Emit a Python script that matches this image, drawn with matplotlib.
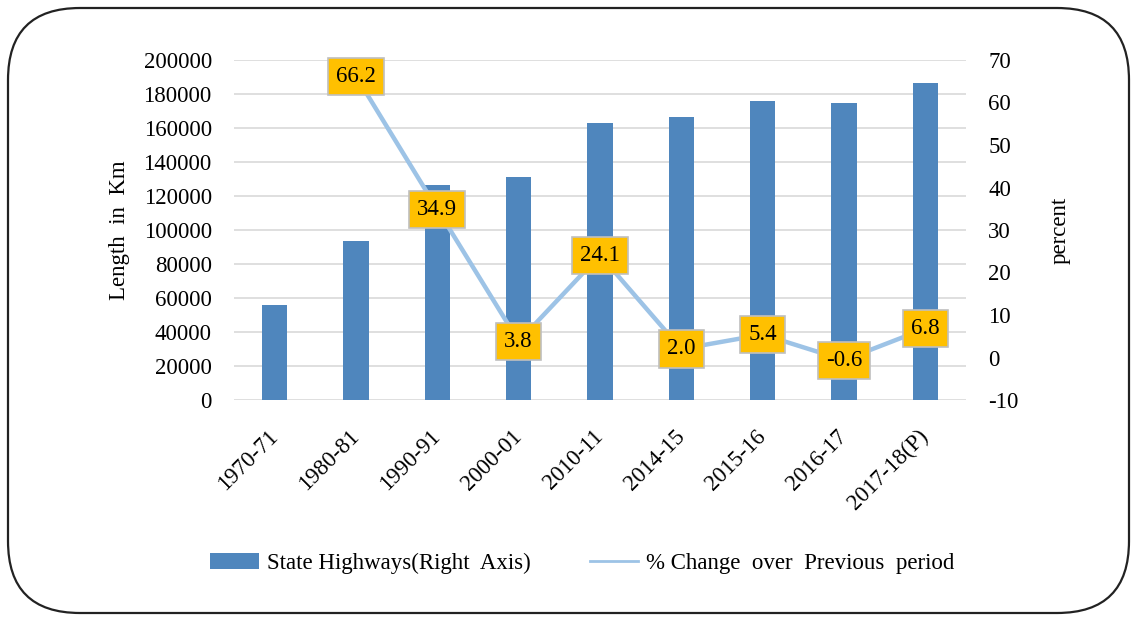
import numpy as np
import matplotlib.pyplot as plt
from matplotlib import rcParams
from matplotlib.patches import FancyBboxPatch
from matplotlib.lines import Line2D
from matplotlib.transforms import IdentityTransform

rcParams['font.family'] = 'Liberation Serif'
rcParams['font.size'] = 16.5
rcParams['axes.unicode_minus'] = False

periods = ["1970-71", "1980-81", "1990-91", "2000-01", "2010-11",
           "2014-15", "2015-16", "2016-17", "2017-18(P)"]
highway_km = [56000, 93500, 126500, 131000, 163000, 166500, 176000, 175000, 186500]
pct_change = [np.nan, 66.2, 34.9, 3.8, 24.1, 2.0, 5.4, -0.6, 6.8]

bar_color = "#4F86BD"
line_color = "#9DC3E6"

W, H = 1131, 619
fig = plt.figure(figsize=(W / 100, H / 100), dpi=100)

# rounded frame around the whole chart (pixel coords)
frame = FancyBboxPatch((8, 6), 1121, 605,
                       boxstyle="round,pad=0,rounding_size=72",
                       transform=IdentityTransform(), fill=False,
                       edgecolor="#222222", linewidth=1.6)
fig.patches.append(frame)

ax = fig.add_axes([234 / W, 1 - 400 / H, 732 / W, 340 / H])
x = np.arange(len(periods))
bars = ax.bar(x, highway_km, width=0.31, color=bar_color, zorder=2,
              label="State Highways(Right  Axis)")
ax.set_ylim(0, 200000)
ax.set_yticks(np.arange(0, 200001, 20000))
ax.set_xlim(-0.5, len(periods) - 0.5)
ax.yaxis.grid(True, color="#D9D9D9", linewidth=1.2, zorder=0)
ax.set_axisbelow(True)
for s in ax.spines.values():
    s.set_visible(False)
ax.tick_params(length=0)
ax.tick_params(axis='y', pad=16)
ax.set_xticks(x)
ax.set_xticklabels(periods, rotation=45, ha='right', va='center',
                   rotation_mode='anchor')
ax.tick_params(axis='x', pad=24)
ax.set_ylabel("Length  in  Km", labelpad=10)

ax2 = ax.twinx()
ax2.plot(x, pct_change, color=line_color, linewidth=3.2, zorder=3)
ax2.set_ylim(-10, 70)
ax2.set_yticks(np.arange(-10, 71, 10))
for s in ax2.spines.values():
    s.set_visible(False)
ax2.tick_params(length=0, pad=16)
ax2.set_ylabel("percent", labelpad=22)

for xi, v in zip(x, pct_change):
    if np.isnan(v):
        continue
    ax2.text(xi, v, f"{v:.1f}", ha='center', va='center', fontsize=16.5, zorder=5,
             bbox=dict(boxstyle="square,pad=0.35", facecolor="#FFC000",
                       edgecolor="#BFBFBF", linewidth=1.2))

line_handle = Line2D([], [], color=line_color, linewidth=2.0,
                     label="% Change  over  Previous  period")
fig.legend(handles=[bars, line_handle], loc='center',
           bbox_to_anchor=(0.515, 1 - 563 / H),
           ncol=2, frameon=False, fontsize=16.5, handlelength=2.1,
           handletextpad=0.35, columnspacing=2.6)

fig.savefig("out.png", dpi=100)
